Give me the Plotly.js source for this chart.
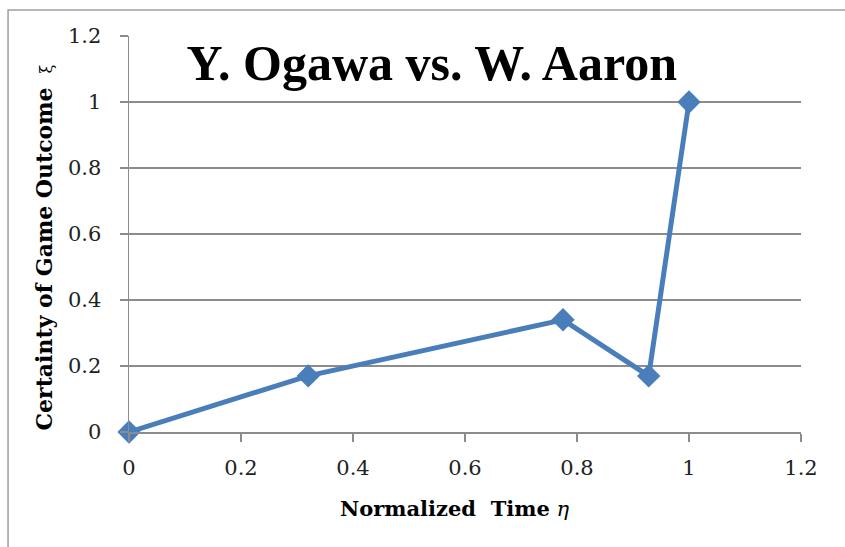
<!DOCTYPE html>
<html><head><meta charset="utf-8">
<script src="https://cdn.plot.ly/plotly-3.0.1.min.js"></script>
<style>html,body{margin:0;padding:0;background:#fff;}#chart{width:845px;height:547px;}</style>
</head><body><div id="chart"></div>
<script>
var timeValues = [0, 0.32, 0.775, 0.928, 1];
var certaintyValues = [0, 0.17, 0.34, 0.17, 1];
var tickValues = [0, 0.2, 0.4, 0.6, 0.8, 1, 1.2];
var tickLabels = ['0', '0.2', '0.4', '0.6', '0.8', '1', '1.2'];
var chartTitle = 'Y. Ogawa vs. W. Aaron';
var xTitle = 'Normalized\u00a0\u00a0Time';
var yTitle = 'Certainty of Game Outcome';

var serif = '"DejaVu Serif", "Liberation Serif", serif';
var titleSerif = '"Liberation Serif", "DejaVu Serif", serif';
var trace = {
  x: timeValues, y: certaintyValues, type: 'scatter', mode: 'lines+markers',
  line: {color: '#4a7ebb', width: 5},
  marker: {symbol: 'diamond', size: 18, color: '#4a7ebb'},
  cliponaxis: false,
  showlegend: false, hoverinfo: 'none'
};
var layout = {
  width: 845, height: 547,
  margin: {l: 129, r: 44, t: 36, b: 115},
  paper_bgcolor: '#fff', plot_bgcolor: '#fff',
  font: {family: serif, color: '#222'},
  title: {text: '<b>' + chartTitle + '</b>', font: {family: titleSerif, size: 50, color: '#000'},
          x: 0.511, xanchor: 'center', y: 0.885, yanchor: 'middle', xref: 'container', yref: 'container'},
  xaxis: {range: [0, 1.2], tickvals: tickValues, ticktext: tickLabels, showgrid: false, zeroline: false,
          showline: true, linecolor: '#8c8c8c', linewidth: 1.5, ticks: 'outside', ticklen: 8, tickcolor: '#8c8c8c', tickwidth: 1.5,
          ticklabelstandoff: 8,
          tickfont: {family: serif, size: 21, color: '#222'}},
  yaxis: {range: [0, 1.2], tickvals: tickValues, ticktext: tickLabels, showgrid: true, gridcolor: '#8c8c8c', gridwidth: 1.5,
          zeroline: false, showline: true, linecolor: '#8c8c8c', linewidth: 1.5, ticks: 'outside', ticklen: 8, tickcolor: '#8c8c8c', tickwidth: 1.5,
          ticklabelstandoff: 14,
          tickfont: {family: serif, size: 21, color: '#222'}},
  annotations: [
    {text: '<b>' + xTitle + '</b> <i>η</i>', xref: 'paper', yref: 'paper', x: 0.485, y: -0.192,
     xanchor: 'center', yanchor: 'middle', showarrow: false, font: {family: serif, size: 21, color: '#000'}},
    {text: '<b>' + yTitle + '</b>\u00a0\u00a0<span style="font-size:16px">ξ</span>', xref: 'paper', yref: 'paper', x: -0.126, y: 0.467,
     xanchor: 'center', yanchor: 'middle', textangle: -90, showarrow: false, font: {family: serif, size: 22, color: '#000'}}
  ],
  shapes: [{type: 'rect', xref: 'paper', yref: 'paper', x0: -0.18, x1: 1.2, y0: -0.4, y1: 1.0657,
            line: {color: '#a0a0a0', width: 1.5}, fillcolor: 'rgba(0,0,0,0)', layer: 'below'}]
};
Plotly.newPlot('chart', [trace], layout, {staticPlot: true, displayModeBar: false});
</script></body></html>
